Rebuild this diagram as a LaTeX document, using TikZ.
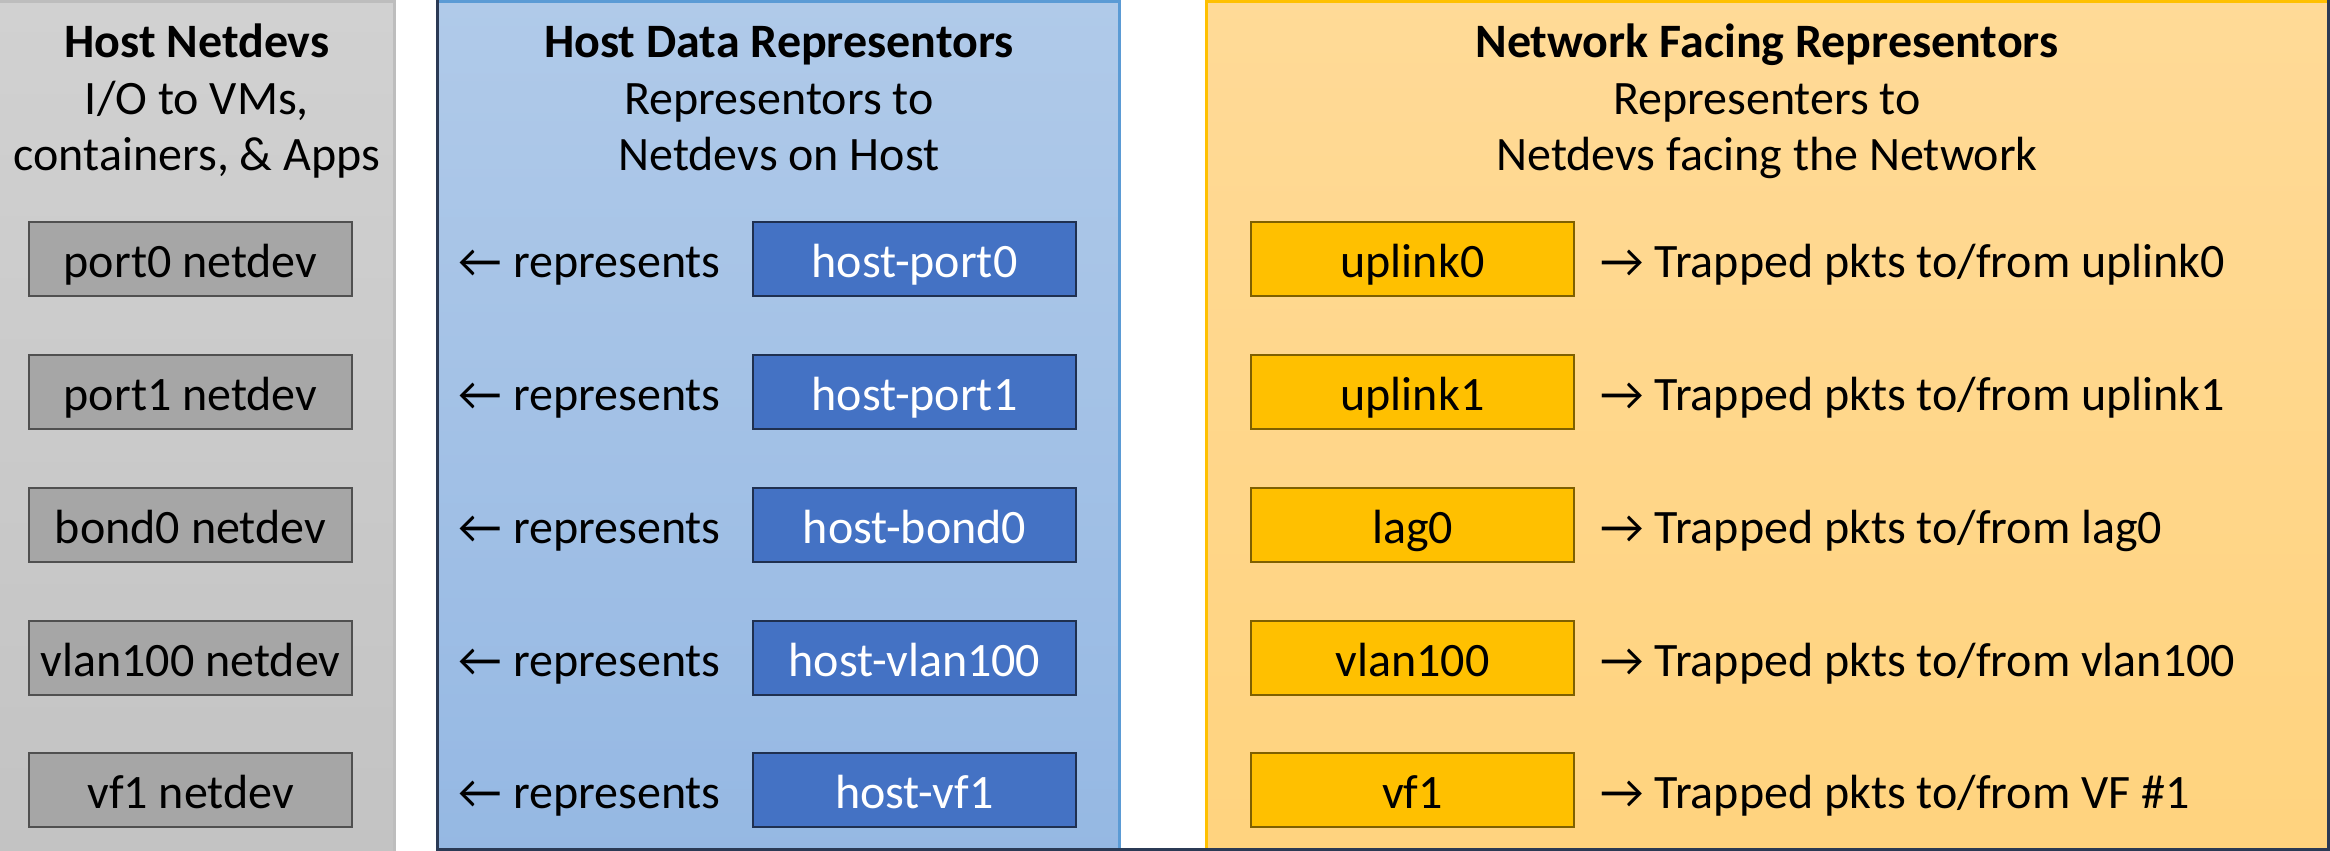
\documentclass[tikz,border=0pt]{standalone}
\usepackage{fontspec}
\setmainfont{Carlito}
\usetikzlibrary{positioning}

\definecolor{grayTop}{HTML}{D1D1D1}
\definecolor{grayBot}{HTML}{C3C3C3}
\definecolor{grayEdge}{HTML}{BDBDBD}
\definecolor{devFill}{HTML}{A6A6A6}
\definecolor{devEdge}{HTML}{505050}
\definecolor{blueTop}{HTML}{B0CAE9}
\definecolor{blueBot}{HTML}{95B8E3}
\definecolor{blueEdge}{HTML}{5B9BD5}
\definecolor{repFill}{HTML}{4472C4}
\definecolor{repEdge}{HTML}{1F3050}
\definecolor{orTop}{HTML}{FFDA97}
\definecolor{orBot}{HTML}{FFD37E}
\definecolor{orEdge}{HTML}{FFC000}
\definecolor{upFill}{HTML}{FFC000}
\definecolor{upEdge}{HTML}{7F6000}
\definecolor{frameDark}{HTML}{2B3A55}

\tikzset{
  basefont/.style={font=\fontsize{24}{28}\selectfont},
  hdr/.style={anchor=base, inner sep=0pt, font=\fontsize{24}{28}\selectfont\bfseries},
  sub/.style={anchor=base, inner sep=0pt, basefont},
  box/.style={minimum width=161.5pt, minimum height=37pt, inner sep=0pt,
              text height=20pt, text depth=2pt, line width=1pt, basefont},
  devbox/.style={box, fill=devFill, draw=devEdge},
  repbox/.style={box, fill=repFill, draw=repEdge, text=white},
  upbox/.style={box, fill=upFill, draw=upEdge},
  note/.style={inner sep=0pt, text height=20pt, text depth=2pt, basefont},
}

\begin{document}
\begin{tikzpicture}[x=0.5pt, y=-0.5pt]
\useasboundingbox (0,0) rectangle (2330,851);
\clip (0,0) rectangle (2330,851);

% column panels
\fill[top color=grayTop, bottom color=grayBot] (-10,1.5) rectangle (394.5,860);
\draw[grayEdge, line width=1.5pt] (-10,1.5) -- (394.5,1.5) -- (394.5,860);

\fill[top color=blueTop, bottom color=blueBot] (438,1.5) rectangle (1119.5,860);
\draw[blueEdge, line width=1.5pt] (438,1.5) -- (1119.5,1.5) -- (1119.5,860);

\fill[top color=orTop, bottom color=orBot] (1206.5,1.5) rectangle (2340,860);
\draw[orEdge, line width=1.5pt] (1206.5,860) -- (1206.5,1.5) -- (2340,1.5);

% dark outer frame
\draw[frameDark, line width=1.5pt] (437.5,0) -- (437.5,849.5) -- (2328.5,849.5) -- (2328.5,0);

% headings
\node[hdr] (gh) at (197,57) {Host Netdevs};
\node[sub] (gs1) at (197,114) {I/O to VMs,};
\node[sub] (gs2) at (197,170) {containers, \& Apps};

\node[hdr] (bh) at (779,57) {Host Data Representors};
\node[sub] (bs1) at (779,114) {Representors to};
\node[sub] (bs2) at (779,170) {Netdevs on Host};

\node[hdr] (oh) at (1767,57) {Network Facing Representors};
\node[sub] (os1) at (1767,114) {Representers to};
\node[sub] (os2) at (1767,170) {Netdevs facing the Network};

% host netdevs
\node[devbox] (d1) at (190.5,259) {port0 netdev};
\node[devbox] (d2) at (190.5,392) {port1 netdev};
\node[devbox] (d3) at (190.5,525) {bond0 netdev};
\node[devbox] (d4) at (190.5,658) {vlan100 netdev};
\node[devbox] (d5) at (190.5,790) {vf1 netdev};

% host data representors
\node[repbox] (r1) at (914.5,259) {host-port0};
\node[repbox] (r2) at (914.5,392) {host-port1};
\node[repbox] (r3) at (914.5,525) {host-bond0};
\node[repbox] (r4) at (914.5,658) {host-vlan100};
\node[repbox] (r5) at (914.5,790) {host-vf1};

\node[note, left=15.5pt of r1] (rt1) {← represents};
\node[note, left=15.5pt of r2] (rt2) {← represents};
\node[note, left=15.5pt of r3] (rt3) {← represents};
\node[note, left=15.5pt of r4] (rt4) {← represents};
\node[note, left=15.5pt of r5] (rt5) {← represents};

% network facing representors
\node[upbox] (u1) at (1412.5,259) {uplink0};
\node[upbox] (u2) at (1412.5,392) {uplink1};
\node[upbox] (u3) at (1412.5,525) {lag0};
\node[upbox] (u4) at (1412.5,658) {vlan100};
\node[upbox] (u5) at (1412.5,790) {vf1};

\node[note, right=12.5pt of u1] (ut1) {→ Trapped pkts to/from uplink0};
\node[note, right=12.5pt of u2] (ut2) {→ Trapped pkts to/from uplink1};
\node[note, right=12.5pt of u3] (ut3) {→ Trapped pkts to/from lag0};
\node[note, right=12.5pt of u4] (ut4) {→ Trapped pkts to/from vlan100};
\node[note, right=12.5pt of u5] (ut5) {→ Trapped pkts to/from VF \#1};
\end{tikzpicture}
\end{document}
